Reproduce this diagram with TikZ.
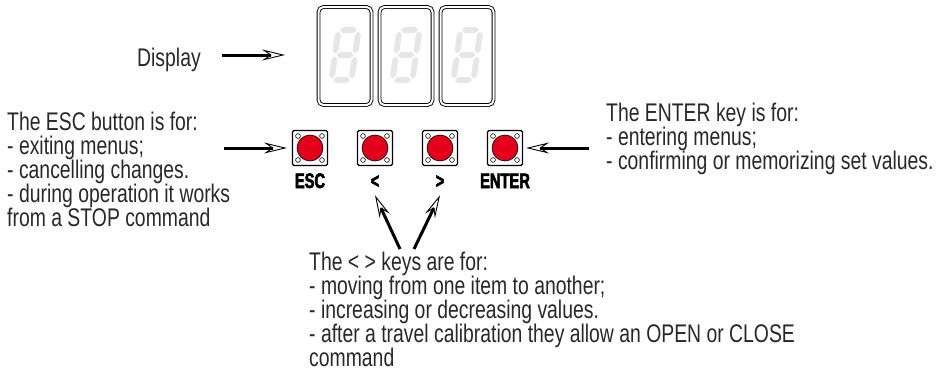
\documentclass[tikz,border=0pt]{standalone}
\usepackage{fontspec}
\setmainfont[FakeStretch=0.76]{Liberation Sans}
\newfontfamily\keyfont[FakeStretch=0.7, FakeBold=2.6]{Liberation Sans}
\usetikzlibrary{arrows.meta}

\definecolor{btnred}{RGB}{226,0,26}
\definecolor{segray}{RGB}{230,230,230}
\definecolor{txtgray}{RGB}{40,40,40}

% grey seven-segment "8", drawn round the current origin
\newcommand{\digiteight}{%
  \foreach \yy in {-25,0,25}
    \fill[segray] (-8.5,\yy) -- (-5.5,\yy-3) -- (5.5,\yy-3) -- (8.5,\yy)
      -- (5.5,\yy+3) -- (-5.5,\yy+3) -- cycle;
  \foreach \xx in {-10,10}
    \foreach \ya/\yb in {-23.5/-1.5, 1.5/23.5}
      \fill[segray] (\xx,\ya) -- (\xx+3,\ya+3) -- (\xx+3,\yb-3) -- (\xx,\yb)
        -- (\xx-3,\yb-3) -- (\xx-3,\ya+3) -- cycle;
}

\tikzset{
  panel/.style={draw, double, double distance=2pt, line width=0.9pt,
    rounded corners=5pt, minimum width=53pt, minimum height=98pt, inner sep=0pt},
  btn/.style={draw, line width=1.1pt, rounded corners=1.5pt,
    minimum size=35pt, inner sep=0pt},
  keylab/.style={font=\keyfont\bfseries\fontsize{21}{21}\selectfont,
    inner sep=0pt, anchor=base},
  txt/.style={font=\fontsize{25.5}{24.2}\selectfont, text=txtgray,
    align=left, inner sep=0pt, anchor=north west},
  arr/.style={line width=3pt,
    -{Stealth[open, length=23pt, width=11pt, inset=8pt, line width=0.9pt]}},
}

\begin{document}
\begin{tikzpicture}[x=1pt, y=-1pt]
    \useasboundingbox (0,0) rectangle (942,380);
    % display
    \foreach \nm/\x in {p1/345, p2/406, p3/467}{
        \node[panel] (\nm) at (\x,56) {};
        \begin{scope}[shift={(\x,55)}, xslant=0.14]
            \digiteight
        \end{scope}
    }
    \node[txt, anchor=base west] (disptxt) at (137,66) {Display};
    % keys
    \foreach \nm/\x/\lab in {esc/310/ESC, lt/375/<, gt/440/>, ent/505/ENTER}{
        \node[btn] (\nm) at (\x,148) {};
        \draw[fill=btnred, line width=0.6pt] (\nm.center) circle (13pt);
        \foreach \dx/\dy in {-12/-12, 12/-12, -12/12, 12/12}
            \draw[line width=0.6pt, fill=white] ([shift={(\dx,\dy)}]\nm.center) circle (2.4pt);
        \node[keylab] (lab\nm) at (\x,188) {\lab};
    }
    % texts
    \node[txt] (esctxt) at (7,111.5) {The ESC button is for:\\- exiting menus;\\- cancelling changes.\\- during operation it works\\from a STOP command};
    \node[txt] (enttxt) at (606,102.5) {The ENTER key is for:\\- entering menus;\\- confirming or memorizing set values.};
    \node[txt] (keytxt) at (309,251.5) {The < > keys are for:\\- moving from one item to another;\\- increasing or decreasing values.\\- after a travel calibration they allow an OPEN or CLOSE\\command};
    % arrows
    \coordinate (dispA) at (222,55);
    \coordinate (escA) at (224,148);
    \coordinate (entA) at (589,148);
    \coordinate (ktailL) at (400,249);
    \coordinate (ktailR) at (414,249);
    \draw[arr, shorten >=33pt] (dispA) -- (dispA -| p1.west);
    \draw[arr, shorten >=5pt] (escA) -- (esc.west);
    \draw[arr, shorten >=3pt] (entA) -- (ent.east);
    \draw[arr] (ktailL) -- ([yshift=-7pt]lablt.south);
    \draw[arr] (ktailR) -- ([yshift=-7pt]labgt.south);
\end{tikzpicture}
\end{document}
